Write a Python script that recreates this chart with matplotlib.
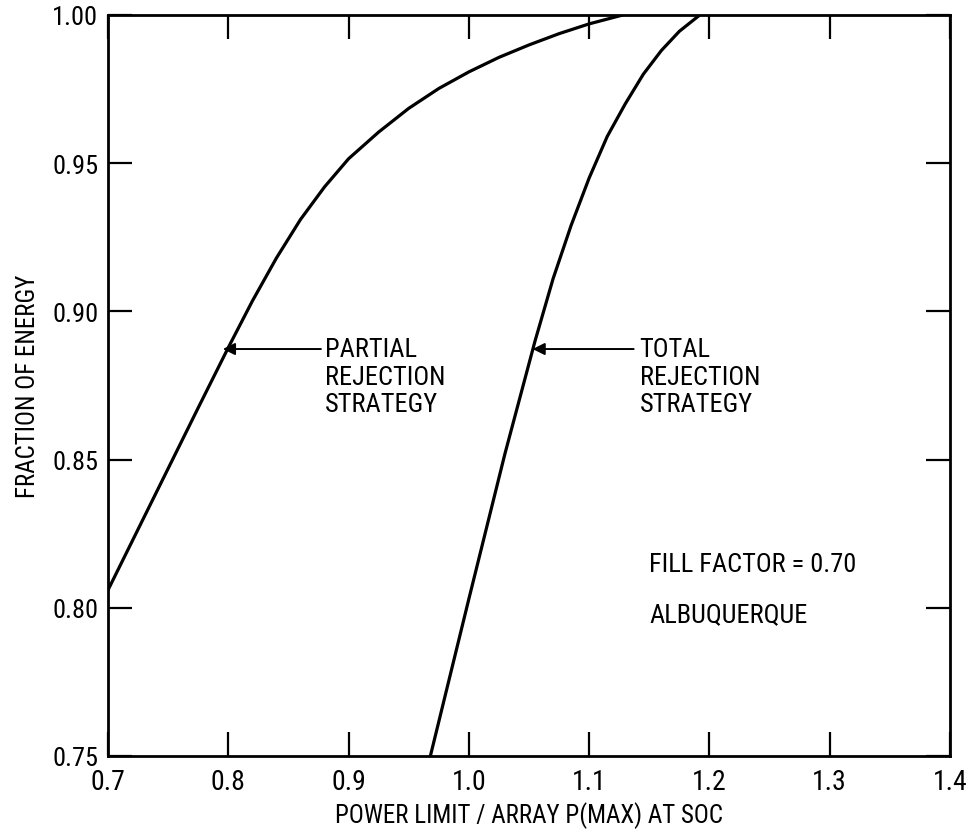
import matplotlib
matplotlib.use('Agg')
import matplotlib.pyplot as plt
from matplotlib import font_manager

# pick a narrow face if one is installed
names = {f.name for f in font_manager.fontManager.ttflist}
narrow = [n for n in ['Liberation Sans Narrow', 'Roboto Condensed', 'Open Sans Condensed',
                      'DejaVu Sans Condensed', 'Noto Sans Condensed'] if n in names]
plt.rcParams['font.family'] = narrow + ['DejaVu Sans']
plt.rcParams['font.stretch'] = 'condensed'

# values
partial_x = [0.700, 0.725, 0.750, 0.775, 0.800, 0.820, 0.840, 0.860, 0.880, 0.900,
             0.925, 0.950, 0.975, 1.000, 1.025, 1.050, 1.075, 1.100, 1.128]
partial_y = [0.806, 0.8265, 0.847, 0.8675, 0.8878, 0.9035, 0.918, 0.931, 0.942, 0.9515,
             0.9605, 0.9685, 0.9752, 0.9808, 0.9857, 0.9899, 0.9937, 0.9970, 1.000]

total_x = [0.968, 1.000, 1.030, 1.055, 1.070, 1.085, 1.100, 1.115, 1.130, 1.145,
           1.160, 1.175, 1.192]
total_y = [0.750, 0.803, 0.852, 0.890, 0.911, 0.929, 0.945, 0.959, 0.970, 0.980,
           0.988, 0.9945, 1.000]

x_ticks = [0.7, 0.8, 0.9, 1.0, 1.1, 1.2, 1.3, 1.4]
x_labels = ['0.7', '0.8', '0.9', '1.0', '1.1', '1.2', '1.3', '1.4']
y_ticks = [0.75, 0.80, 0.85, 0.90, 0.95, 1.00]
y_labels = ['0.75', '0.80', '0.85', '0.90', '0.95', '1.00']

fig = plt.figure(figsize=(9.68, 8.37), dpi=100)
ax = fig.add_axes([0.1116, 0.0956, 0.8698, 0.8853])

ax.plot(partial_x, partial_y, color='black', linewidth=2.3, solid_joinstyle='round')
ax.plot(total_x, total_y, color='black', linewidth=2.3, solid_joinstyle='round')

ax.set_xlim(0.7, 1.4)
ax.set_ylim(0.75, 1.00)
ax.set_xticks(x_ticks)
ax.set_xticklabels(x_labels)
ax.set_yticks(y_ticks)
ax.set_yticklabels(y_labels)
ax.tick_params(axis='both', direction='in', length=17, width=1.6,
               labelsize=19, top=True, right=True)
ax.tick_params(axis='x', pad=9, labelsize=20)
ax.tick_params(axis='y', pad=7)
for sp in ax.spines.values():
    sp.set_linewidth(2)

ax.set_xlabel('POWER LIMIT / ARRAY P(MAX) AT SOC', fontsize=18, labelpad=4)
ax.set_ylabel('FRACTION OF ENERGY', fontsize=18, labelpad=9)

arrow = dict(arrowstyle='-|>', color='black', lw=1.4, mutation_scale=18, shrinkA=0, shrinkB=0)
ax.annotate('', xy=(0.7955, 0.8873), xytext=(0.877, 0.8873), arrowprops=arrow)
ax.annotate('', xy=(1.053, 0.8873), xytext=(1.137, 0.8873), arrowprops=arrow)

line_y = [0.8873, 0.8779, 0.8688]
for y, s in zip(line_y, ['PARTIAL', 'REJECTION', 'STRATEGY']):
    ax.text(0.880, y, s, fontsize=19, va='center', ha='left')
for y, s in zip(line_y, ['TOTAL', 'REJECTION', 'STRATEGY']):
    ax.text(1.142, y, s, fontsize=19, va='center', ha='left')

ax.text(1.150, 0.8148, 'FILL FACTOR = 0.70', fontsize=19, va='center', ha='left')
ax.text(1.150, 0.798, 'ALBUQUERQUE', fontsize=19, va='center', ha='left')

fig.savefig('out.png', dpi=100, facecolor='white')
